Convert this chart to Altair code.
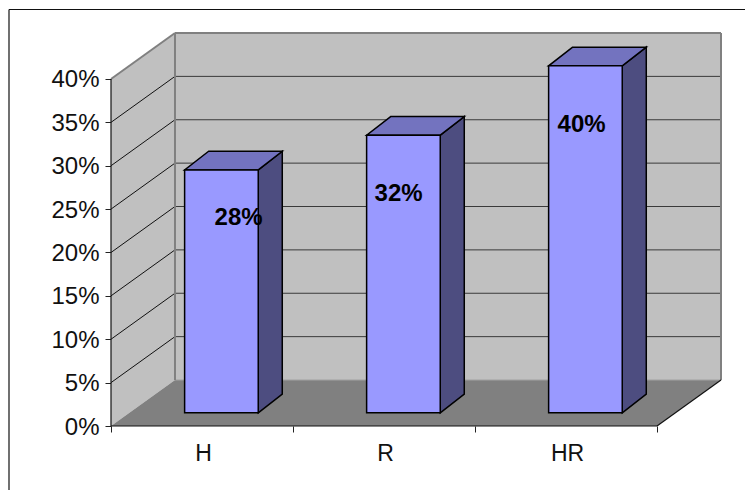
import altair as alt
import pandas as pd

# Survey shares per group, in percent
categories = ["H", "R", "HR"]
values = [28, 32, 40]
percent_ticks = [0, 5, 10, 15, 20, 25, 30, 35, 40]
slot_ticks = [0, 1, 2, 3]

# Oblique projection, expressed in axis units (slots across, percent up)
WALL_DX, WALL_DY = 0.3516, 5.3
BAR_LEFT, BAR_WIDTH = 0.4045, 0.4045
BAR_DX, BAR_DY = 0.132, 2.15
BAR_BASE = 1.52
Y_TOP = 40 + WALL_DY
X_END = 3 + WALL_DX

x_scale = alt.Scale(domain=[0, X_END], range=[0, 610], nice=False, zero=False)
y_scale = alt.Scale(domain=[0, Y_TOP], range=[393, 0], nice=False, zero=False)
font = "Liberation Sans"

x_axis = alt.Axis(values=slot_ticks, labels=False, domain=False, grid=False, ticks=True,
                  tickSize=6, tickColor="#222222", tickWidth=1, title=None)
y_axis = alt.Axis(values=percent_ticks, labelExpr="datum.value + '%'", domain=False, grid=False,
                  tickSize=6, tickColor="#222222", tickWidth=1, labelFont=font, labelFontSize=24,
                  labelColor="#111111", labelPadding=6, labelOffset=1, title=None)


def X(field):
    return alt.X(field, type="quantitative", scale=x_scale, axis=x_axis, stack=None)


def Y(field):
    return alt.Y(field, type="quantitative", scale=y_scale, axis=y_axis, stack=None)


def segments(rows, color, width):
    frame = pd.DataFrame(rows, columns=["x", "y", "x2", "y2"])
    return alt.Chart(frame).mark_rule(color=color, strokeWidth=width).encode(
        x=X("x"), y=Y("y"), x2="x2", y2="y2")


# Side wall, back wall and floor
side_wall = alt.Chart(pd.DataFrame({
    "x": [0, WALL_DX], "y": [0, WALL_DY], "y2": [40, Y_TOP]
})).mark_area(color="#C0C0C0").encode(x=X("x"), y=Y("y"), y2="y2")

back_wall = alt.Chart(pd.DataFrame({
    "x": [WALL_DX], "x2": [X_END], "y": [WALL_DY], "y2": [Y_TOP]
})).mark_rect(color="#C0C0C0").encode(x=X("x"), x2="x2", y=Y("y"), y2="y2")

floor = alt.Chart(pd.DataFrame({
    "y": [0, WALL_DY], "x": [0, WALL_DX], "x2": [3, X_END]
})).mark_area(color="#808080", orient="horizontal").encode(y=Y("y"), x=X("x"), x2="x2")

grid_levels = percent_ticks[1:-1]
side_grid = segments([[0, v, WALL_DX, v + WALL_DY] for v in grid_levels], "#111111", 1)
back_grid = segments([[WALL_DX, v + WALL_DY, X_END, v + WALL_DY] for v in grid_levels], "#3A3A3A", 1)
wall_edges = segments([
    [0, 40, WALL_DX, Y_TOP],
    [WALL_DX, Y_TOP, X_END, Y_TOP],
    [WALL_DX, WALL_DY, WALL_DX, Y_TOP],
    [X_END, WALL_DY, X_END, Y_TOP],
], "#808080", 2)
floor_back = segments([[WALL_DX, WALL_DY, X_END, WALL_DY]], "#A0A0A0", 1)
axis_lines = segments([
    [0, 0, 0, 40],
    [0, 0, 3, 0],
    [3, 0, X_END, WALL_DY],
], "#111111", 1.2)

# Three faces of each column
bar_layers = []
for i, (category, value) in enumerate(zip(categories, values)):
    left = i + BAR_LEFT
    right = left + BAR_WIDTH
    top = BAR_BASE + value

    side = alt.Chart(pd.DataFrame({
        "x": [right, right + BAR_DX],
        "y": [BAR_BASE, BAR_BASE + BAR_DY],
        "y2": [top, top + BAR_DY],
    })).mark_area(color="#4D4D80", stroke="#000000", strokeWidth=1.5).encode(
        x=X("x"), y=Y("y"), y2="y2")

    cap = alt.Chart(pd.DataFrame({
        "y": [top, top + BAR_DY],
        "x": [left, left + BAR_DX],
        "x2": [right, right + BAR_DX],
    })).mark_area(color="#7373BF", stroke="#000000", strokeWidth=1.5, orient="horizontal").encode(
        y=Y("y"), x=X("x"), x2="x2")

    front = alt.Chart(pd.DataFrame({
        "x": [left], "x2": [right], "y": [BAR_BASE], "y2": [top]
    })).mark_rect(color="#9999FF", stroke="#000000", strokeWidth=1.5).encode(
        x=X("x"), x2="x2", y=Y("y"), y2="y2")

    bar_layers += [side, cap, front]

# Value labels sit inside the columns, nudged individually
label_nudges = {"H": (54, 48), "R": (32, 59), "HR": (33, 59)}
label_layers = []
for i, (category, value) in enumerate(zip(categories, values)):
    nudge_x, nudge_y = label_nudges[category]
    frame = pd.DataFrame({"x": [i + BAR_LEFT], "y": [BAR_BASE + value], "t": [f"{value}%"]})
    label_layers.append(
        alt.Chart(frame).mark_text(font=font, fontSize=24, fontWeight="bold", color="#000000",
                                   dx=nudge_x, dy=nudge_y).encode(x=X("x"), y=Y("y"), text="t:N"))

category_labels = alt.Chart(pd.DataFrame({
    "x": [i + 0.5 for i in range(len(categories))],
    "y": [0] * len(categories),
    "t": categories,
})).mark_text(font=font, fontSize=23, color="#111111", dx=1.5, dy=28).encode(
    x=X("x"), y=Y("y"), text="t:N")

# Outer frame, open on the right and at the bottom
frame_top = alt.Chart(pd.DataFrame({"a": [0]})).mark_rule(color="#111111", strokeWidth=1.2).encode(
    x=alt.value(-102), x2=alt.value(634), y=alt.value(-23.5))
frame_left = alt.Chart(pd.DataFrame({"a": [0]})).mark_rule(color="#111111", strokeWidth=1.2).encode(
    x=alt.value(-102), y=alt.value(-23.5), y2=alt.value(457))

chart = alt.layer(
    side_wall, back_wall, floor, side_grid, back_grid, floor_back, wall_edges, axis_lines,
    *bar_layers, *label_layers, category_labels, frame_top, frame_left,
).properties(
    width=610,
    height=393,
    padding={"left": 111, "top": 33, "right": 24, "bottom": 64},
    autosize=alt.AutoSizeParams(type="none"),
    background="#FFFFFF",
).configure_view(stroke=None)

chart.save("out.html", embed_options={"renderer": "svg", "actions": False})
